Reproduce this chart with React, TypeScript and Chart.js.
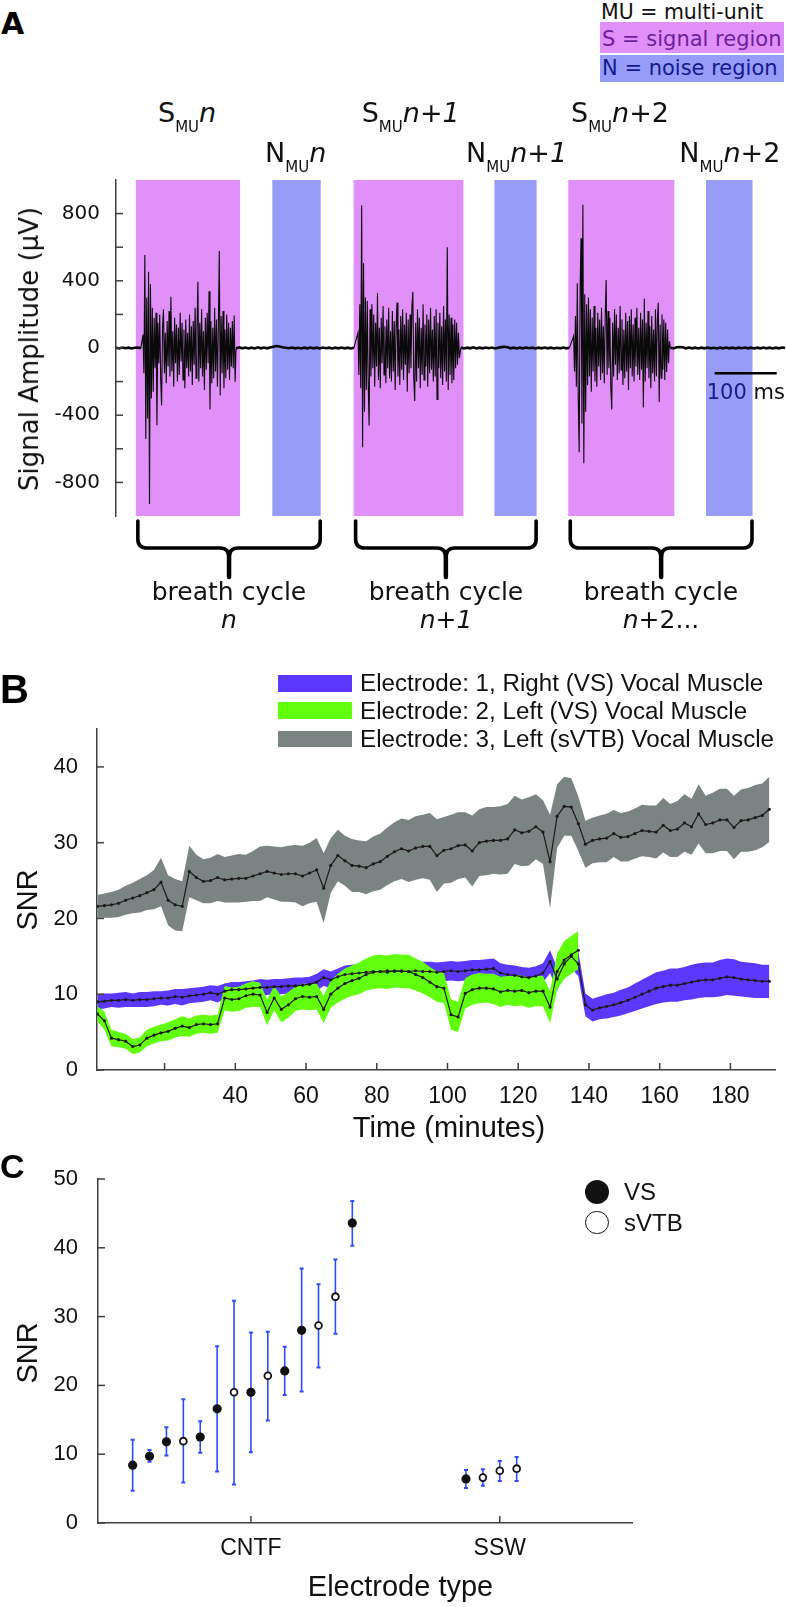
import React, { useEffect, useRef } from 'react';
import { Chart, registerables } from 'chart.js';

Chart.register(...registerables);

const DJ = "'DejaVu Sans', sans-serif";
const LS = "'Liberation Sans', Arial, Helvetica, sans-serif";
const AXIS = '#3f3f3f';
const PINK = '#e290f9';
const BLUE = '#969cf8';
const PURPLE = '#5c38ff';
const GREEN = '#62ff0c';
const GRAY = '#7a8482';
const ERR = '#2a4cff';

// ---------------- Panel A data ----------------
const ampTickValues = [-800, -600, -400, -200, 0, 200, 400, 600, 800];
const ampTickLabels = ['-800', '', '-400', '', '0', '', '400', '', '800'];
const signalStartMs = [32, 383, 729];
const signalEndMs = [200, 560, 900];
const noiseStartMs = [252, 610, 951];
const noiseEndMs = [330, 678, 1026];
const segmentStartMs = [0, 43.5, 193.5, 390, 556, 737.6, 893.6];
const segmentStepMs = [5, 1.5, 5, 1.5, 5, 1.5, 5];
const segmentIsBurst = [false, true, false, true, false, true, false];
const baseline0 = [2, -3, 3, -1, 2, -3, 1, 3, -2];
const burst1 = [
  80, -150, 553, -541, 300, -420, 454, -929, 380, -300,
  240, -260, 180, -120, 210, -460, 150, -90, 200, -180,
  -342, 120, 230, -150, 90, -210, 160, -110, 220, -170,
  305, -140, 100, -230, 180, -90, 140, -200, 120, -160,
  210, -80, 150, -190, 110, -240, 170, -120, 90, -170,
  200, -140, 130, -220, 160, -100, 240, -180, 120, 394,
  -200, 150, -120, 230, -170, 100, -250, 180, -130, 210,
  -90, 338, -366, 160, -210, 120, -180, 240, -140, 170,
  -230, 130, 577, -282, 190, -150, 220, -240, 110, -180,
  200, -130, 150, -190, 120, -110, 160, -120, 193, -201,
];
const baseline1 = [
  -3, 4, -2, 3, -3, 2, -3, 4, -2, 3, -2, 3, 8, 12, 9, 5, 2, -1, 3, -2,
  1, -3, 2, -2, 3, -2, 2, -3, 3, -1, 2, -3, 2, -2, 3, -2, 2, -3, 1,
];
const burst2 = [
  90, -160, 260, -240, 848, -591, 504, -380, 300, -250,
  280, -200, -461, 230, -170, 260, -120, 200, -230, 150,
  -110, 326, -190, 120, -240, 180, -90, 250, -160, 130,
  -210, 170, -120, 240, -180, 100, -200, 220, -140, 160,
  -250, 130, 270, -170, 110, -220, 190, -130, 230, -190,
  140, -100, 210, -260, 170, -150, 200, -120, 250, 334,
  -180, -316, 150, -200, 230, -120, 180, -240, 120, -160,
  260, -190, 140, -110, 200, -230, 170, -150, 240, -130,
  110, -200, 190, -170, 230, -306, 150, -120, 210, -180,
  130, -220, 250, -140, 170, -200, 599, -250, 200, -160,
  180, -210, 140, -190, 170, -120, 150, -100, 90, -60,
];
const baseline2 = [
  3, -3, 2, -2, 4, -3, 2, -2, 3, -1, 3, -3, 2, 5, 7, 4, -2, 2, -3, 2,
  -2, 3, -1, 2, -3, 2, -2, 3, -2, 2, -3, 1, -2, 3, -2, 2,
];
const burst3 = [
  70, -140, 190, -230, 386, -300, -621, 350, 653, -450,
  852, -686, 320, -380, 260, -220, 300, -170, 230, -260,
  180, -140, 250, -200, 120, -230, 210, -110, 170, -190,
  240, -150, 130, -210, 190, 404, -160, 220, -120, 180,
  -240, -366, 150, -170, 230, -100, 200, -190, 120, -150,
  250, -130, 170, -220, 110, -180, 210, -140, 160, -250,
  190, -120, 230, -170, 140, -200, 180, -110, 240, -160,
  120, -190, 210, -130, 170, -354, 295, -200, 150, -120,
  220, -180, 130, -240, 190, -150, 110, -200, 230, -170,
  160, 269, -322, 140, -180, 200, -130, 170, -190, 150,
  -143, 110, -90, 40,
];
const baseline3 = [
  2, -3, 4, 6, 4, -2, 3, -2, 2, -3, 2, -2, 3, -2, 1, -3, 2, -2, 3, -2,
  2, -3, 2, -1, 3, -2, 2, -3, 2, -2, 3, -2, 2, -3, 2, -2, 3, 1,
];
const segmentValues = [baseline0, burst1, baseline1, burst2, baseline2, burst3, baseline3];
const scaleBarMs = [965, 1065];
const scaleBarLevel = -150;

// ---------------- Panel B data ----------------
const timeMinutes = [
  1, 3, 5, 7, 9, 11, 13, 15, 17, 19, 21, 23, 25, 27, 29, 31, 33, 35, 37, 39,
  41, 43, 45, 47, 49, 51, 53, 55, 57, 59, 61, 63, 65, 67, 69, 71, 73, 75, 77, 79,
  81, 83, 85, 87, 89, 91, 93, 95, 97, 99, 101, 103, 105, 107, 109, 111, 113, 115, 117, 119,
  121, 123, 125, 127, 129, 131, 133, 135, 137, 139, 141, 143, 145, 147, 149, 151, 153, 155, 157, 159,
  161, 163, 165, 167, 169, 171, 173, 175, 177, 179, 181, 183, 185, 187, 189, 191,
];
const e3Mean = [
  21.6, 21.7, 21.8, 22.0, 22.4, 22.7, 23.0, 23.4, 23.8, 24.8,
  22.4, 21.8, 21.6, 26.2, 25.4, 24.9, 25.0, 25.4, 25.1, 25.2,
  25.3, 25.3, 25.6, 25.9, 26.2, 26.0, 25.8, 25.9, 25.9, 25.6,
  26.0, 26.4, 24.0, 27.0, 28.3, 27.6, 27.0, 26.9, 26.7, 27.2,
  27.5, 28.2, 28.8, 29.2, 28.9, 29.3, 29.5, 29.5, 28.3, 29.0,
  29.2, 29.6, 29.7, 28.9, 30.0, 30.2, 30.3, 30.3, 30.5, 31.7,
  31.3, 31.5, 32.1, 31.4, 27.5, 33.5, 34.8, 34.7, 32.5, 29.8,
  30.3, 30.5, 30.6, 31.2, 30.7, 30.8, 31.2, 31.6, 31.5, 31.4,
  32.3, 31.6, 31.8, 32.6, 32.1, 33.8, 32.4, 32.6, 33.0, 33.0,
  32.0, 32.9, 33.0, 33.3, 33.6, 34.4,
];
const e3Spread = [
  1.5, 1.6, 1.7, 1.8, 1.9, 2.0, 2.2, 2.3, 2.6, 3.2,
  3.3, 3.4, 3.3, 3.4, 3.0, 2.9, 3.0, 3.1, 3.0, 3.1,
  3.2, 3.1, 3.3, 3.6, 3.4, 3.5, 3.6, 3.7, 3.8, 4.0,
  4.0, 4.2, 4.6, 3.6, 3.4, 3.3, 3.5, 3.4, 3.5, 3.6,
  3.7, 3.8, 3.9, 4.0, 4.1, 4.2, 4.2, 4.4, 4.8, 4.4,
  4.5, 4.4, 4.3, 4.7, 4.4, 4.5, 4.4, 4.5, 4.6, 4.5,
  4.4, 4.5, 4.3, 4.2, 6.2, 4.2, 3.9, 3.8, 3.6, 3.1,
  3.0, 3.1, 3.2, 3.1, 3.2, 3.3, 3.3, 3.4, 3.4, 3.5,
  3.6, 3.5, 3.7, 3.8, 3.7, 3.9, 3.8, 4.0, 4.1, 4.1,
  4.2, 4.1, 4.2, 4.3, 4.2, 4.3,
];
const e1Mean = [
  9.0, 9.1, 9.2, 9.2, 9.3, 9.2, 9.3, 9.3, 9.4, 9.5,
  9.5, 9.7, 9.6, 9.8, 9.9, 10.0, 10.2, 10.0, 10.4, 10.6,
  10.6, 10.7, 10.8, 10.9, 10.9, 11.0, 11.0, 11.1, 11.1, 11.2,
  11.3, 11.6, 12.2, 11.9, 12.3, 12.6, 12.7, 12.8, 12.9, 13.0,
  13.0, 13.1, 13.0, 13.1, 13.0, 13.1, 13.0, 13.0, 12.9, 13.0,
  13.1, 13.0, 13.1, 13.2, 13.2, 13.3, 13.4, 12.8, 12.6, 12.5,
  12.3, 12.2, 12.4, 12.8, 14.3, 12.0, 14.0, 15.0, 14.0, 8.6,
  7.9, 8.2, 8.4, 8.6, 8.9, 9.2, 9.6, 10.0, 10.4, 10.8,
  11.0, 11.2, 11.2, 11.4, 11.6, 11.8, 11.9, 11.9, 12.1, 12.3,
  12.2, 12.0, 11.9, 11.8, 11.7, 11.7,
];
const e1Spread = [
  1.0, 1.0, 0.9, 1.0, 1.0, 0.9, 1.0, 1.0, 1.0, 0.9,
  1.0, 1.0, 1.1, 1.0, 1.0, 1.0, 1.0, 1.1, 1.0, 1.0,
  1.0, 1.0, 1.0, 1.1, 1.0, 1.0, 1.0, 1.0, 1.1, 1.0,
  1.0, 1.1, 1.1, 1.1, 1.1, 1.2, 1.2, 1.2, 1.2, 1.2,
  1.2, 1.2, 1.2, 1.2, 1.3, 1.3, 1.3, 1.3, 1.3, 1.3,
  1.3, 1.3, 1.3, 1.3, 1.3, 1.3, 1.3, 1.3, 1.3, 1.3,
  1.3, 1.3, 1.3, 1.3, 1.5, 1.5, 1.5, 1.6, 1.6, 1.5,
  1.5, 1.5, 1.6, 1.6, 1.7, 1.7, 1.8, 1.9, 2.0, 2.1,
  2.1, 2.2, 2.2, 2.2, 2.3, 2.3, 2.3, 2.3, 2.4, 2.4,
  2.4, 2.3, 2.3, 2.3, 2.2, 2.2,
];
const e2Mean = [
  7.4, 6.5, 4.2, 4.0, 3.8, 3.1, 3.3, 4.2, 4.6, 4.9,
  5.1, 5.5, 5.8, 5.6, 6.0, 6.1, 6.0, 6.1, 9.5, 9.3,
  9.4, 9.8, 10.0, 9.9, 7.6, 9.5, 8.0, 8.6, 9.4, 9.7,
  9.6, 9.7, 8.0, 10.0, 10.8, 11.4, 11.8, 12.1, 12.6, 12.9,
  13.0, 12.9, 13.1, 13.0, 13.0, 12.6, 12.2, 11.6, 11.0, 10.8,
  7.3, 7.0, 10.1, 10.6, 10.8, 10.8, 10.7, 10.3, 10.5, 10.4,
  10.5, 10.2, 10.4, 10.4, 8.3, 13.0, 14.5, 15.2, 15.8, null,
  null, null, null, null, null, null, null, null, null, null,
  null, null, null, null, null, null, null, null, null, null,
  null, null, null, null, null, null,
];
const e2Spread = [
  1.0, 1.2, 1.1, 1.0, 1.0, 1.0, 1.0, 1.1, 1.1, 1.1,
  1.2, 1.2, 1.3, 1.2, 1.2, 1.2, 1.2, 1.2, 1.6, 1.6,
  1.6, 1.6, 1.7, 1.6, 1.7, 1.6, 1.7, 1.7, 1.6, 1.7,
  1.7, 1.7, 1.8, 1.8, 1.9, 2.0, 2.0, 2.1, 2.1, 2.2,
  2.2, 2.2, 2.2, 2.2, 2.2, 2.1, 2.1, 2.0, 2.0, 2.0,
  2.0, 2.0, 2.0, 2.0, 2.0, 1.9, 2.0, 2.0, 1.9, 2.0,
  2.0, 2.0, 2.0, 2.0, 2.1, 2.4, 2.5, 2.5, 2.5, null,
  null, null, null, null, null, null, null, null, null, null,
  null, null, null, null, null, null, null, null, null, null,
  null, null, null, null, null, null,
];
const timeTickValues = [20, 40, 60, 80, 100, 120, 140, 160, 180];
const timeTickLabels = ['', '40', '60', '80', '100', '120', '140', '160', '180'];
const snrTickValuesB = [0, 10, 20, 30, 40];
const electrodeLegend = [
  'Electrode: 1, Right (VS) Vocal Muscle',
  'Electrode: 2, Left (VS) Vocal Muscle',
  'Electrode: 3, Left (sVTB) Vocal Muscle',
];

// ---------------- Panel C data ----------------
const electrodeTypes = ['CNTF', 'SSW'];
const cntfMean = [8.4, 9.7, 11.8, 11.9, 12.5, 16.6, 19.0, 19.0, 21.4, 22.1, 28.0, 28.7, 32.9, 43.6];
const cntfLow = [4.7, 8.9, 9.8, 5.9, 10.2, 7.5, 5.6, 10.3, 14.9, 18.6, 19.1, 22.6, 27.5, 40.3];
const cntfHigh = [12.1, 10.6, 13.9, 18.0, 14.8, 25.7, 32.3, 27.7, 27.8, 25.6, 37.0, 34.7, 38.3, 46.8];
const cntfMuscle = ['VS', 'VS', 'VS', 'sVTB', 'VS', 'VS', 'sVTB', 'VS', 'sVTB', 'VS', 'VS', 'sVTB', 'sVTB', 'VS'];
const sswMean = [6.4, 6.6, 7.6, 7.9];
const sswLow = [5.1, 5.4, 6.1, 6.1];
const sswHigh = [7.7, 7.8, 9.0, 9.6];
const sswMuscle = ['VS', 'sVTB', 'sVTB', 'sVTB'];
const snrTickValuesC = [0, 10, 20, 30, 40, 50];

const POINT_SPACING = 0.0679; // dodge between neighbouring electrodes (axis units)

function buildRecords() {
  const groups = [
    { center: 1, mean: cntfMean, low: cntfLow, high: cntfHigh, muscle: cntfMuscle },
    { center: 2, mean: sswMean, low: sswLow, high: sswHigh, muscle: sswMuscle },
  ];
  const out: any[] = [];
  groups.forEach((g) => {
    const mid = Math.floor(g.mean.length / 2);
    g.mean.forEach((m, i) => {
      out.push({ x: g.center + (i - mid) * POINT_SPACING, mean: m, low: g.low[i], high: g.high[i], muscle: g.muscle[i] });
    });
  });
  return out;
}

// ---------------- plugins ----------------
const insideTicksPlugin = {
  id: 'insideTicks',
  afterDraw(chart: any, _a: any, opts: any) {
    const { ctx, chartArea } = chart;
    const len = opts.len || 7;
    ctx.save();
    ctx.strokeStyle = opts.color || AXIS;
    ctx.lineWidth = opts.width || 1.5;
    Object.values(chart.scales).forEach((s: any) => {
      if (s.options.display === false) return;
      s.ticks.forEach((t: any) => {
        const p = s.getPixelForValue(t.value);
        ctx.beginPath();
        if (s.isHorizontal()) {
          ctx.moveTo(p, chartArea.bottom);
          ctx.lineTo(p, chartArea.bottom - len);
        } else {
          ctx.moveTo(chartArea.left, p);
          ctx.lineTo(chartArea.left + len, p);
        }
        ctx.stroke();
      });
    });
    ctx.restore();
  },
};

const breathPlugin = {
  id: 'breath',
  beforeDatasetsDraw(chart: any) {
    const { ctx, chartArea } = chart;
    const x = chart.scales.x;
    ctx.save();
    const paint = (starts: number[], ends: number[], color: string) => {
      ctx.fillStyle = color;
      starts.forEach((s, i) => {
        const a = x.getPixelForValue(s);
        const b = x.getPixelForValue(ends[i]);
        ctx.fillRect(a, chartArea.top, b - a, chartArea.bottom - chartArea.top);
      });
    };
    paint(signalStartMs, signalEndMs, PINK);
    paint(noiseStartMs, noiseEndMs, BLUE);
    ctx.restore();
  },
  afterDraw(chart: any) {
    const { ctx, chartArea } = chart;
    const x = chart.scales.x;
    const bottom = chartArea.bottom;
    ctx.save();
    ctx.strokeStyle = '#000';
    ctx.lineCap = 'round';
    ctx.lineJoin = 'round';
    signalStartMs.forEach((s, i) => {
      const l = x.getPixelForValue(s) + 2;
      const r = x.getPixelForValue(noiseEndMs[i]) - 0.5;
      const c = (l + r) / 2;
      const y0 = bottom + 5;
      const yh = bottom + 32;
      const yt = bottom + 61;
      ctx.lineWidth = 3.6;
      ctx.beginPath();
      ctx.moveTo(l, y0);
      ctx.lineTo(l, yh - 9);
      ctx.quadraticCurveTo(l, yh, l + 9, yh);
      ctx.lineTo(c - 9, yh);
      ctx.quadraticCurveTo(c, yh, c, yh + 10);
      ctx.moveTo(r, y0);
      ctx.lineTo(r, yh - 9);
      ctx.quadraticCurveTo(r, yh, r - 9, yh);
      ctx.lineTo(c + 9, yh);
      ctx.quadraticCurveTo(c, yh, c, yh + 10);
      ctx.stroke();
      ctx.lineWidth = 4.5;
      ctx.beginPath();
      ctx.moveTo(c, yh + 4);
      ctx.lineTo(c, yt);
      ctx.stroke();
    });
    ctx.restore();
  },
};

const errorBarPlugin = {
  id: 'errorBars',
  beforeDatasetsDraw(chart: any) {
    const { ctx } = chart;
    const xs = chart.scales.x;
    const ys = chart.scales.y;
    ctx.save();
    ctx.strokeStyle = ERR;
    buildRecords().forEach((r) => {
      const px = xs.getPixelForValue(r.x);
      const lo = ys.getPixelForValue(r.low);
      const hi = ys.getPixelForValue(r.high);
      ctx.lineWidth = 1.6;
      ctx.beginPath();
      ctx.moveTo(px, lo);
      ctx.lineTo(px, hi);
      ctx.stroke();
      ctx.lineWidth = 2;
      ctx.beginPath();
      ctx.moveTo(px - 2, lo);
      ctx.lineTo(px + 2, lo);
      ctx.moveTo(px - 2, hi);
      ctx.lineTo(px + 2, hi);
      ctx.stroke();
    });
    ctx.restore();
  },
};

function axisY(width: number, tickValues: number[], labels: string[] | null, family: string, size: number, padding: number, min: number, max: number) {
  return {
    type: 'linear',
    min,
    max,
    afterFit: (s: any) => { s.width = width; },
    afterBuildTicks: (s: any) => { s.ticks = tickValues.map((v) => ({ value: v })); },
    ticks: {
      callback: (v: any, i: number) => (labels ? labels[i] : String(v)),
      font: { family, size },
      color: '#111',
      padding,
      autoSkip: false,
    },
    grid: { display: false, drawTicks: false },
    border: { display: true, color: AXIS, width: 1.5 },
  };
}

function axisX(height: number, tickValues: number[], labels: string[], size: number, padding: number, min: number, max: number) {
  return {
    type: 'linear',
    min,
    max,
    afterFit: (s: any) => { s.height = height; },
    afterBuildTicks: (s: any) => { s.ticks = tickValues.map((v) => ({ value: v })); },
    ticks: {
      callback: (_v: any, i: number) => labels[i],
      font: { family: LS, size },
      color: '#111',
      padding,
      autoSkip: false,
      maxRotation: 0,
      minRotation: 0,
    },
    grid: { display: false, drawTicks: false },
    border: { display: true, color: AXIS, width: 1.5 },
  };
}

const baseOptions = () => ({
  animation: false,
  responsive: false,
  maintainAspectRatio: false,
  events: [],
});

function Txt(props: any) {
  const { x, y, size, family = DJ, weight = 'normal', italic = false, color = '#111', align = 'left', children } = props;
  const tx = align === 'center' ? 'translateX(-50%)' : align === 'right' ? 'translateX(-100%)' : 'none';
  return (
    <div
      style={{
        position: 'absolute', left: x, top: y - 0.846 * size, fontSize: size, lineHeight: `${size}px`,
        fontFamily: family, fontWeight: weight, fontStyle: italic ? 'italic' : 'normal', color,
        whiteSpace: 'nowrap', transform: tx,
      }}
    >
      {children}
    </div>
  );
}

function VTxt(props: any) {
  const { cx, cy, size, family, children } = props;
  return (
    <div
      style={{
        position: 'absolute', left: cx, top: cy, fontSize: size, lineHeight: `${size}px`, fontFamily: family,
        color: '#111', whiteSpace: 'nowrap', transform: 'translate(-50%,-50%) rotate(-90deg)',
      }}
    >
      {children}
    </div>
  );
}

const cycleSuffix = (k: number, dots: boolean) =>
  k === 0 ? <i>n</i> : k === 1 ? <><i>n</i>+<i>1</i></> : <><i>n</i>+2{dots ? '...' : ''}</>;

const regionLabels = [
  { x: 158, y: 122, letter: 'S', k: 0 },
  { x: 265, y: 162, letter: 'N', k: 0 },
  { x: 361.7, y: 122, letter: 'S', k: 1 },
  { x: 466, y: 162, letter: 'N', k: 1 },
  { x: 571, y: 122, letter: 'S', k: 2 },
  { x: 679.3, y: 162, letter: 'N', k: 2 },
];
const cycleCenters = [229, 446, 661];

export default function App() {
  const refA = useRef<HTMLCanvasElement>(null);
  const refB = useRef<HTMLCanvasElement>(null);
  const refC = useRef<HTMLCanvasElement>(null);

  useEffect(() => {
    const signalPoints: any[] = [];
    const pointIsBurst: boolean[] = [];
    segmentValues.forEach((vals, s) => {
      vals.forEach((v, i) => {
        signalPoints.push({ x: segmentStartMs[s] + i * segmentStepMs[s], y: v });
        pointIsBurst.push(segmentIsBurst[s]);
      });
    });

    const chartA = new Chart(refA.current as any, {
      type: 'line',
      data: {
        datasets: [
          {
            data: signalPoints, borderColor: '#0a0a0a', borderWidth: 1.1, pointRadius: 0, tension: 0,
            segment: {
              borderWidth: (c: any) => (!pointIsBurst[c.p0DataIndex] && !pointIsBurst[c.p1DataIndex] ? 2.6 : 1.1),
            },
          },
          { data: scaleBarMs.map((x) => ({ x, y: scaleBarLevel })), borderColor: '#000', borderWidth: 2.5, pointRadius: 0 },
        ],
      },
      options: {
        ...baseOptions(),
        layout: { padding: { top: 30, bottom: 124, left: 0, right: 0 } },
        plugins: { legend: { display: false }, tooltip: { enabled: false }, insideTicks: { len: 7, color: AXIS, width: 1.5 } },
        scales: {
          x: { type: 'linear', display: false, min: 0, max: 1080 },
          y: axisY(116, ampTickValues, ampTickLabels, DJ, 20, 16, -1000, 1000),
        },
      } as any,
      plugins: [breathPlugin, insideTicksPlugin],
    } as any);

    const pts = (arr: (number | null)[]) => timeMinutes.map((t, i) => ({ x: t, y: arr[i] }));
    const band = (mean: (number | null)[], sd: (number | null)[], sign: number) =>
      mean.map((m, i) => (m == null || sd[i] == null ? null : m + sign * (sd[i] as number)));
    const bandSet = (mean: any[], sd: any[], color: string, order: number) => [
      { data: pts(band(mean, sd, 1)), fill: '+1', backgroundColor: color, borderColor: 'transparent', borderWidth: 0, pointRadius: 0, order, tension: 0 },
      { data: pts(band(mean, sd, -1)), fill: false, borderColor: 'transparent', borderWidth: 0, pointRadius: 0, order, tension: 0 },
    ];
    const meanSet = (mean: any[]) => ({
      data: pts(mean), borderColor: '#1a1a1a', borderWidth: 1.2, pointRadius: 1.6, pointBackgroundColor: '#1a1a1a',
      pointBorderWidth: 0, order: 0, tension: 0, fill: false,
    });

    const chartB = new Chart(refB.current as any, {
      type: 'line',
      data: {
        datasets: [
          ...bandSet(e3Mean, e3Spread, GRAY, 3),
          ...bandSet(e1Mean, e1Spread, PURPLE, 2),
          ...bandSet(e2Mean, e2Spread, GREEN, 1),
          meanSet(e3Mean),
          meanSet(e1Mean),
          meanSet(e2Mean),
        ],
      },
      options: {
        ...baseOptions(),
        layout: { padding: { top: 39, bottom: 40, left: 0, right: 11 } },
        plugins: { legend: { display: false }, tooltip: { enabled: false }, insideTicks: { len: 7, color: AXIS, width: 1.5 } },
        scales: {
          x: axisX(40, timeTickValues, timeTickLabels, 23, 13, 0.9, 192.6),
          y: axisY(97, snrTickValuesB, null, LS, 22, 19, 0, 45),
        },
      } as any,
      plugins: [insideTicksPlugin],
    } as any);

    const recs = buildRecords();
    const chartC = new Chart(refC.current as any, {
      type: 'scatter',
      data: {
        datasets: [
          {
            data: recs.filter((r) => r.muscle === 'VS').map((r) => ({ x: r.x, y: r.mean })),
            pointRadius: 4.6, backgroundColor: '#111', borderColor: '#111', borderWidth: 0,
          },
          {
            data: recs.filter((r) => r.muscle === 'sVTB').map((r) => ({ x: r.x, y: r.mean })),
            pointRadius: 3.4, backgroundColor: '#fff', borderColor: '#111', borderWidth: 1.8,
          },
        ],
      },
      options: {
        ...baseOptions(),
        layout: { padding: { top: 39, bottom: 44, left: 0, right: 154 } },
        plugins: { legend: { display: false }, tooltip: { enabled: false }, insideTicks: { len: 7, color: AXIS, width: 1.5 } },
        scales: {
          x: axisX(40, [1, 2], electrodeTypes, 23, 12, 0.3855, 2.5313),
          y: axisY(98, snrTickValuesC, null, LS, 22, 20, 0, 50),
        },
      } as any,
      plugins: [errorBarPlugin, insideTicksPlugin],
    } as any);

    return () => {
      chartA.destroy();
      chartB.destroy();
      chartC.destroy();
    };
  }, []);

  const cv = (top: number, h: number) => ({ position: 'absolute' as const, left: 0, top, width: 786, height: h });
  const swatchColors = [PURPLE, GREEN, GRAY];
  const swatchTops = [675, 702.3, 730.7];

  return (
    <div style={{ position: 'absolute', left: 0, top: 0, width: 786, height: 1607, background: '#fff', overflow: 'hidden' }}>
      <canvas ref={refA} width={786} height={490} style={cv(150, 490)} />
      <canvas ref={refB} width={786} height={460} style={cv(690, 460)} />
      <canvas ref={refC} width={786} height={467} style={cv(1140, 467)} />

      {/* ---------- Panel A text ---------- */}
      <Txt x={1} y={34} size={30} weight="bold" color="#000">A</Txt>
      <Txt x={601} y={19.3} size={20.5}>MU = multi-unit</Txt>
      <div style={{ position: 'absolute', left: 600, top: 21.7, width: 184, height: 31.6, background: PINK }} />
      <Txt x={602} y={46.7} size={21} color="#6c1f9e">S = signal region</Txt>
      <div style={{ position: 'absolute', left: 600, top: 55, width: 184, height: 26.7, background: BLUE }} />
      <Txt x={602} y={76} size={21} color="#15198f">N = noise region</Txt>
      {regionLabels.map((r, i) => (
        <Txt key={i} x={r.x} y={r.y} size={27}>
          {r.letter}
          <span style={{ fontSize: 15, position: 'relative', top: 10 }}>MU</span>
          {cycleSuffix(r.k, false)}
        </Txt>
      ))}
      {cycleCenters.map((c, k) => (
        <React.Fragment key={k}>
          <Txt x={c} y={600} size={25} align="center">breath cycle</Txt>
          <Txt x={c} y={628.3} size={25} align="center">{cycleSuffix(k, true)}</Txt>
        </React.Fragment>
      ))}
      <Txt x={706.7} y={400} size={21}>
        <span style={{ color: '#1a1a8c' }}>100</span> ms
      </Txt>
      <VTxt cx={28.5} cy={349} size={26} family={DJ}>Signal Amplitude (µV)</VTxt>

      {/* ---------- Panel B text ---------- */}
      <Txt x={0} y={703} size={40} family={LS} weight="bold" color="#000">B</Txt>
      {electrodeLegend.map((t, i) => (
        <React.Fragment key={i}>
          <div style={{ position: 'absolute', left: 277.7, top: swatchTops[i], width: 74, height: 16.7, background: swatchColors[i] }} />
          <Txt x={360} y={swatchTops[i] + 16.7} size={24.2} family={LS}>{t}</Txt>
        </React.Fragment>
      ))}
      <VTxt cx={26.7} cy={900} size={29} family={LS}>SNR</VTxt>
      <Txt x={449} y={1138} size={29} family={LS} align="center">Time (minutes)</Txt>

      {/* ---------- Panel C text ---------- */}
      <Txt x={0} y={1178} size={34} family={LS} weight="bold" color="#000">C</Txt>
      <VTxt cx={26.7} cy={1353} size={29} family={LS}>SNR</VTxt>
      <Txt x={400.5} y={1596.7} size={29} family={LS} align="center">Electrode type</Txt>
      <div style={{ position: 'absolute', left: 585, top: 1179.7, width: 24, height: 24, borderRadius: '50%', background: '#111' }} />
      <div style={{ position: 'absolute', left: 585.3, top: 1210.6, width: 23.4, height: 23.4, borderRadius: '50%', background: '#fff', border: '1.8px solid #111', boxSizing: 'border-box' }} />
      <Txt x={624} y={1200.7} size={24} family={LS}>VS</Txt>
      <Txt x={624} y={1231} size={24} family={LS}>sVTB</Txt>
    </div>
  );
}
